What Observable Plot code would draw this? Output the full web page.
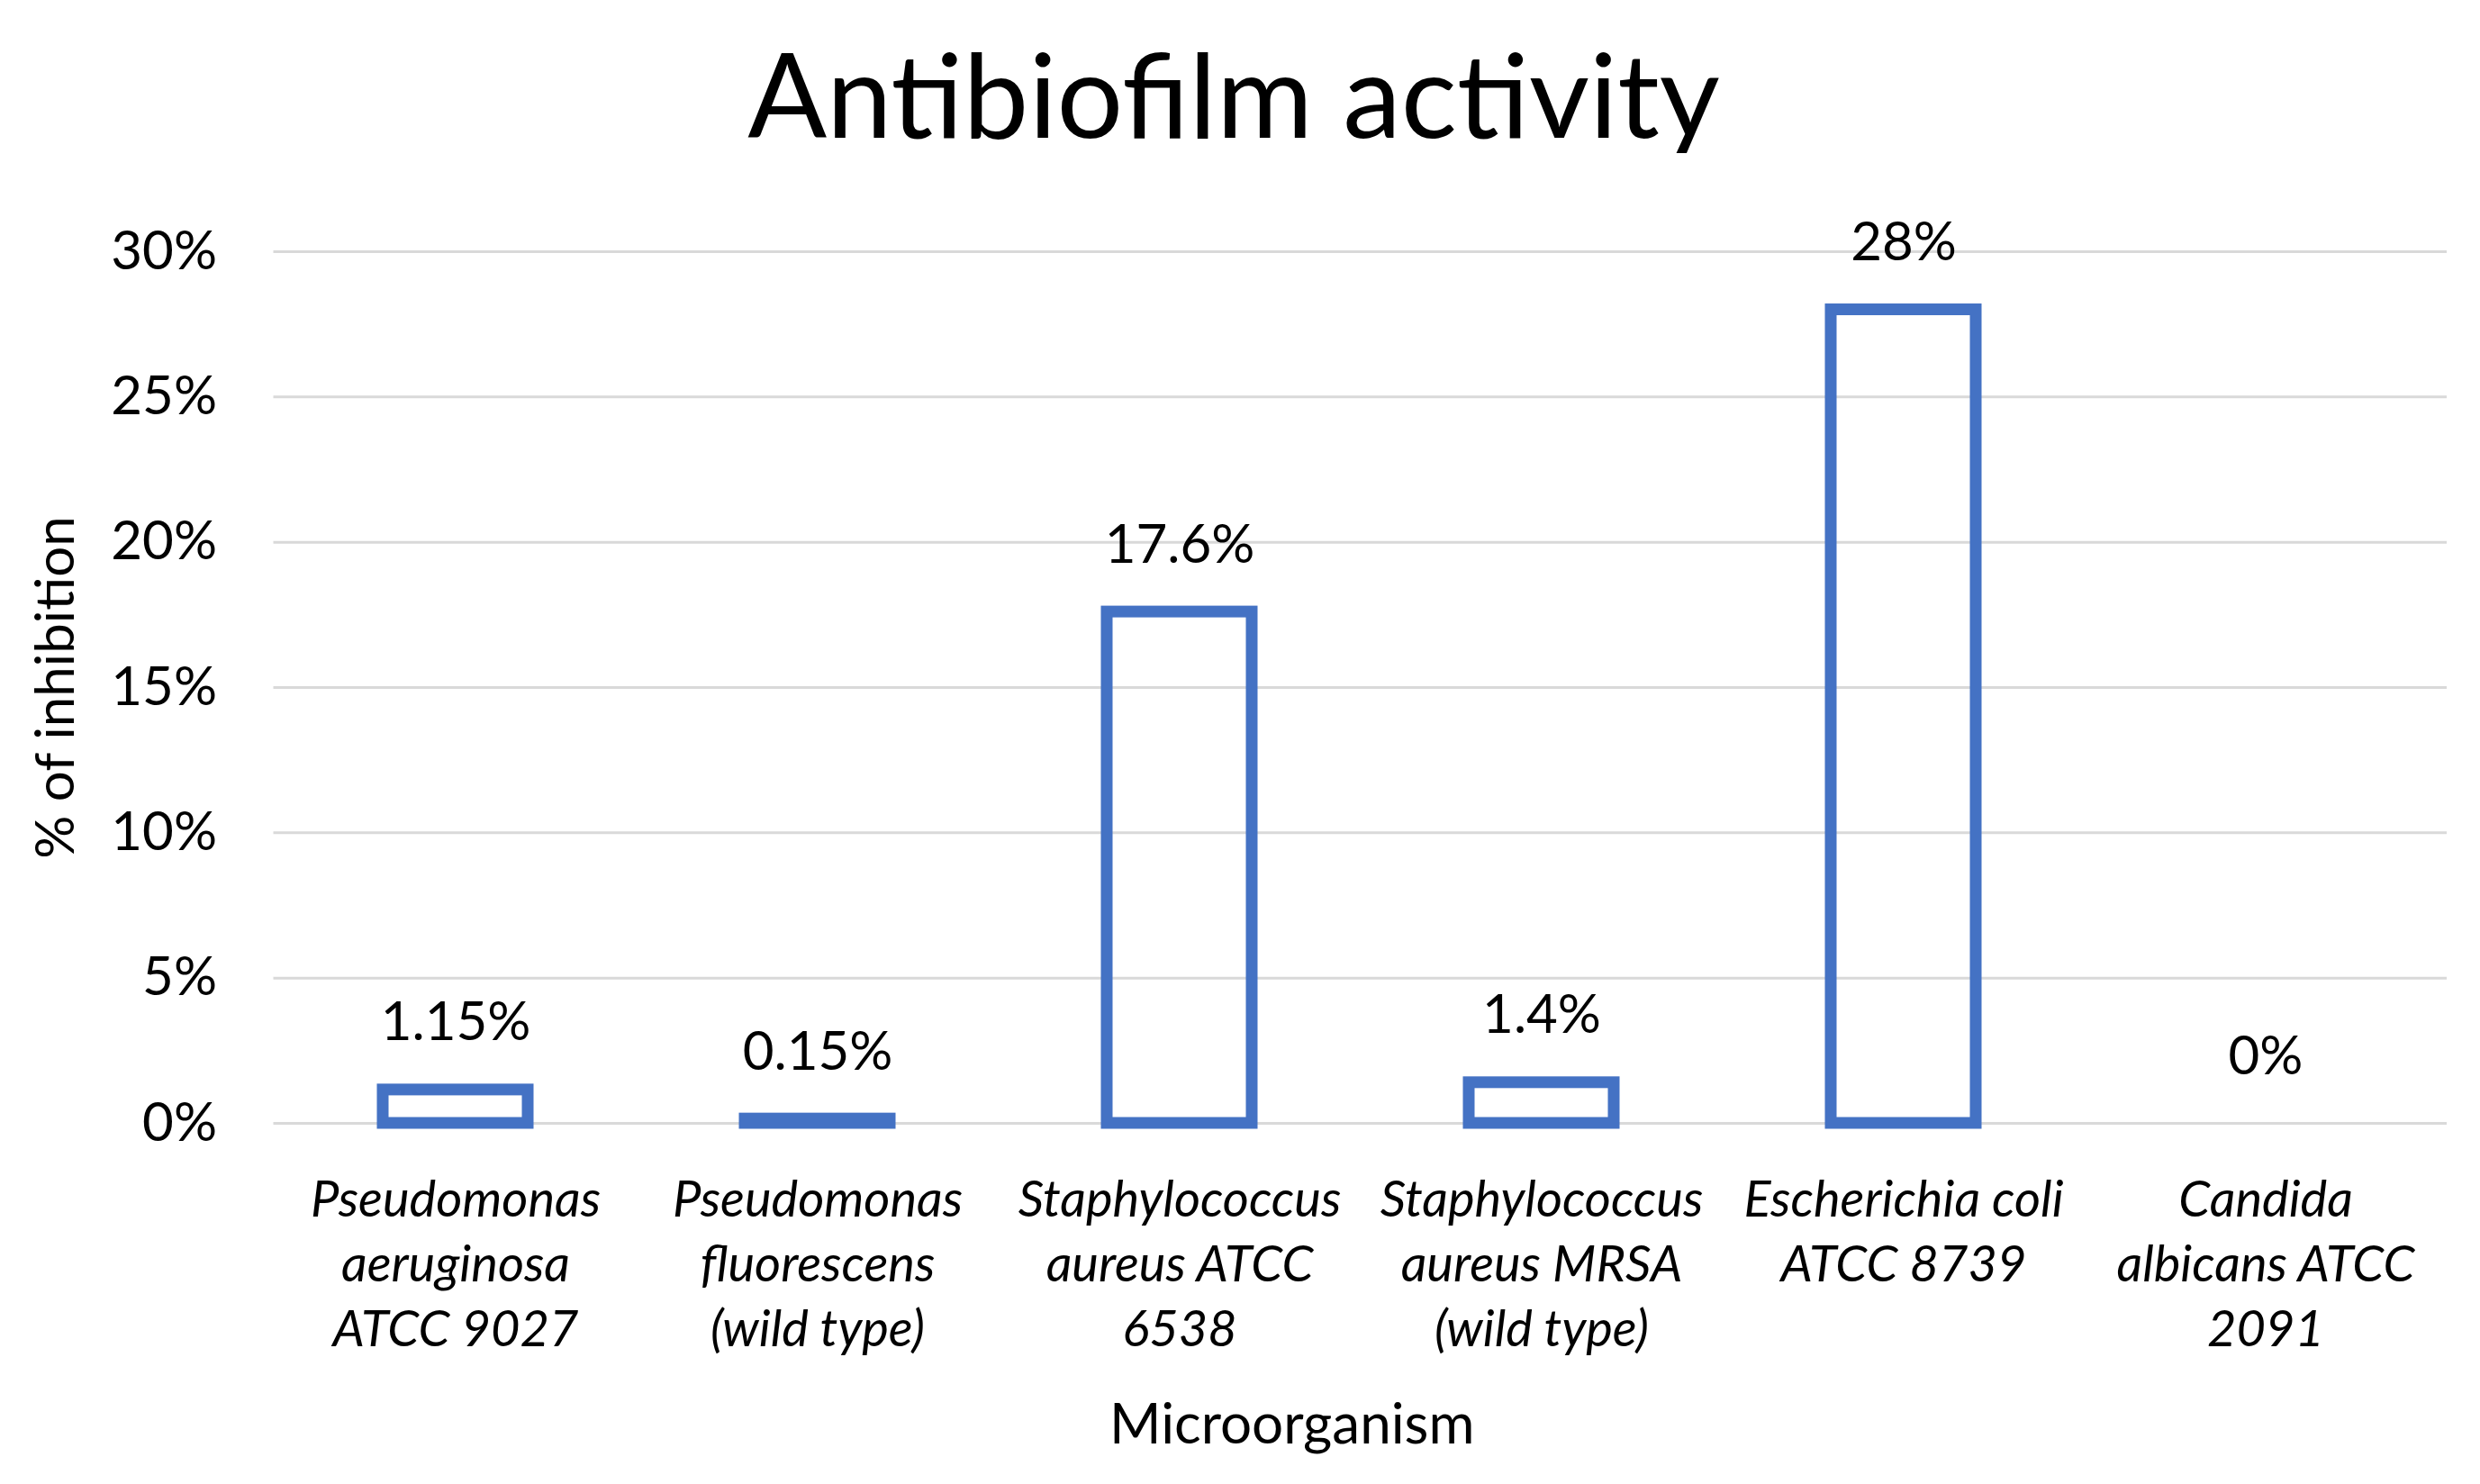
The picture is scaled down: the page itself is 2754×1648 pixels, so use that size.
<!DOCTYPE html>
<html><head><meta charset="utf-8">
<script src="https://cdn.jsdelivr.net/npm/d3@7"></script>
<script src="https://cdn.jsdelivr.net/npm/@observablehq/plot@0.6"></script>
<style>
html,body{margin:0;padding:0;background:#fff;}
#wrap{position:relative;width:2754px;height:1648px;overflow:hidden;font-family:Lato,sans-serif;background:#fff;}
#title{position:absolute;left:0;width:2740px;top:38px;text-align:center;font-size:130px;line-height:1;color:#000;white-space:nowrap;}
#chart{position:absolute;left:0;top:170px;}
#chart g[aria-label="x-axis tick label"] text{font-style:italic;}
</style></head><body>
<div id="wrap"><div id="title">Antibiofilm activity</div><div id="chart"></div></div>
<script>
const categories = [
  "Pseudomonas aeruginosa ATCC 9027",
  "Pseudomonas fluorescens (wild type)",
  "Staphylococcus aureus ATCC 6538",
  "Staphylococcus aureus MRSA (wild type)",
  "Escherichia coli ATCC 8739",
  "Candida albicans ATCC 2091"
];
const tickLabels = [
  "Pseudomonas\naeruginosa\nATCC 9027",
  "Pseudomonas\nfluorescens\n(wild type)",
  "Staphylococcus\naureus ATCC\n6538",
  "Staphylococcus\naureus MRSA\n(wild type)",
  "Escherichia coli\nATCC 8739",
  "Candida\nalbicans ATCC\n2091"
];
const values = [1.15, 0.15, 17.6, 1.4, 28, 0];
const valueLabels = ["1.15%", "0.15%", "17.6%", "1.4%", "28%", "0%"];
const yTicks = [0, 5, 10, 15, 20, 25, 30];
const yTitle = "% of inhibition";
const xTitle = "Microorganism";

const data = categories.map((c, i) => ({category: c, value: values[i], label: valueLabels[i]}));

const plot = Plot.plot({
  width: 2754, height: 1478,
  marginLeft: 303.5, marginRight: 37, marginTop: 109, marginBottom: 401,
  style: {fontFamily: "Lato, sans-serif", fontSize: "60px", color: "#000", background: "#fff", overflow: "visible"},
  x: {domain: categories, paddingInner: 0.6, paddingOuter: 0.3},
  y: {domain: [0, 30]},
  marks: [
    Plot.gridY(yTicks, {stroke: "#d9d9d9", strokeWidth: 3, strokeOpacity: 1}),
    Plot.barY(data, {filter: d => d.value > 0, x: "category", y: "value", fill: "none", stroke: "#4472C4", strokeWidth: 13}),
    Plot.text(data, {x: "category", y: "value", text: "label", lineAnchor: "bottom", dy: -55, fontSize: 60, fill: "#000"}),
    Plot.axisY({ticks: yTicks, tickFormat: d => d + "%", tickSize: 0, tickPadding: 63, fontSize: 60,
      label: yTitle, labelAnchor: "center", labelArrow: "none", labelOffset: 265}),
    Plot.axisX({tickFormat: d => tickLabels[categories.indexOf(d)], tickSize: 0, tickPadding: 53,
      lineHeight: 1.28, fontSize: 56, fontStyle: "italic", label: null}),
    Plot.text([xTitle], {frameAnchor: "bottom", dx: -76, dy: 355, lineAnchor: "bottom", fontSize: 62, fill: "#000"})
  ]
});
document.getElementById("chart").appendChild(plot);
</script>
</body></html>
